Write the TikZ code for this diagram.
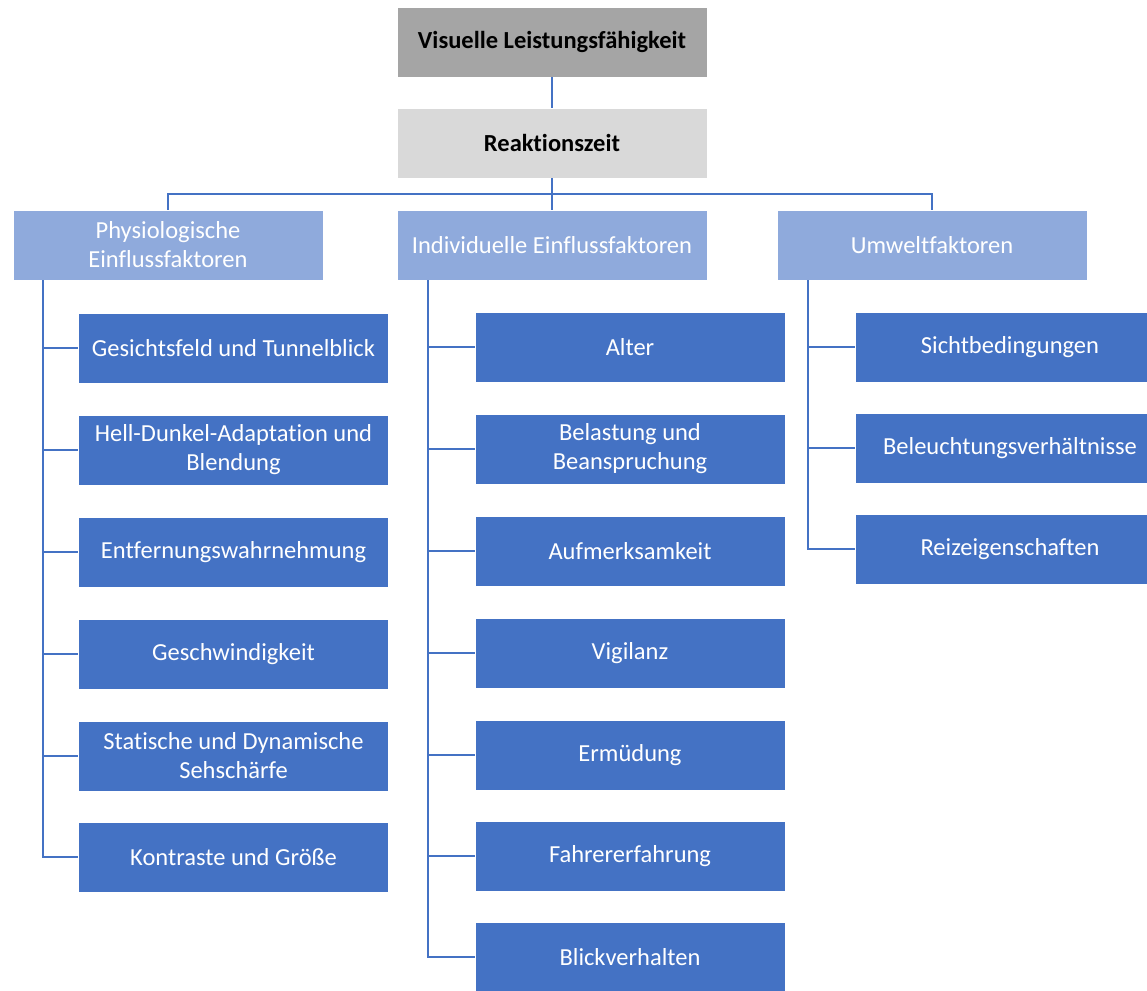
\documentclass[tikz,border=0pt]{standalone}
\usepackage{fontspec}
\setmainfont{Carlito}[Ligatures=NoCommon]
\definecolor{topgray}{HTML}{A5A5A5}
\definecolor{midgray}{HTML}{D9D9D9}
\definecolor{catblue}{HTML}{8FAADC}
\definecolor{itemblue}{HTML}{4472C4}
\definecolor{linkblue}{HTML}{4472C4}

\tikzset{
  box/.style={rectangle,draw=white,line width=0.8pt,minimum width=310,minimum height=70,
    align=center,font=\fontsize{24.5}{29}\selectfont,inner sep=2pt},
  title/.style={box,fill=topgray,text=black,font=\fontsize{24.5}{29}\selectfont\bfseries},
  tier/.style={box,fill=midgray,text=black,font=\fontsize{24.5}{29}\selectfont\bfseries},
  cat/.style={box,fill=catblue,text=white},
  item/.style={box,fill=itemblue,text=white},
  link/.style={draw=linkblue,line width=1.6pt},
}

\begin{document}
\begin{tikzpicture}[x=1pt,y=-1pt]
  \useasboundingbox (0,0) rectangle (1147,990);
  \clip (0,0) rectangle (1147,990);

  \node[title] (vl) at (552,42) {Visuelle Leistungsfähigkeit};
  \node[tier] (rz) at (552,143) {Reaktionszeit};

  \node[cat] (phys) at (168,245) {Physiologische\\Einflussfaktoren};
  \node[cat] (ind) at (552,245) {Individuelle Einflussfaktoren};
  \node[cat] (umw) at (932,245) {Umweltfaktoren};

  % physiologische Faktoren
  \node[item] (p1) at (233.5,348) {Gesichtsfeld und Tunnelblick};
  \node[item] (p2) at (233.5,450) {Hell-Dunkel-Adaptation und\\Blendung};
  \node[item] (p3) at (233.5,552) {Entfernungswahrnehmung};
  \node[item] (p4) at (233.5,654) {Geschwindigkeit};
  \node[item] (p5) at (233.5,756) {Statische und Dynamische\\Sehschärfe};
  \node[item] (p6) at (233.5,857) {Kontraste und Größe};

  % individuelle Faktoren
  \node[item] (i1) at (630,347) {Alter};
  \node[item] (i2) at (630,449) {Belastung und\\Beanspruchung};
  \node[item] (i3) at (630,551) {Aufmerksamkeit};
  \node[item] (i4) at (630,653) {Vigilanz};
  \node[item] (i5) at (630,755) {Ermüdung};
  \node[item] (i6) at (630,856) {Fahrererfahrung};
  \node[item] (i7) at (630,957) {Blickverhalten};

  % Umweltfaktoren
  \node[item] (u1) at (1010,347) {Sichtbedingungen};
  \node[item] (u2) at (1010,448) {Beleuchtungsverhältnisse};
  \node[item] (u3) at (1010,549) {Reizeigenschaften};

  \coordinate (bus) at (552,194);
  \coordinate (pspine) at (43,280);
  \coordinate (ispine) at (428,280);
  \coordinate (uspine) at (808,280);

  \draw[link] (vl) -- (rz);
  \draw[link] (rz) -- (bus) -| (phys.north);
  \draw[link] (bus) -| (umw.north);
  \draw[link] (bus) -- (ind);

  \foreach \n in {p1,p2,p3,p4,p5,p6}
    \draw[link] (pspine) |- (\n.west);
  \foreach \n in {i1,i2,i3,i4,i5,i6,i7}
    \draw[link] (ispine) |- (\n.west);
  \foreach \n in {u1,u2,u3}
    \draw[link] (uspine) |- (\n.west);
\end{tikzpicture}
\end{document}
